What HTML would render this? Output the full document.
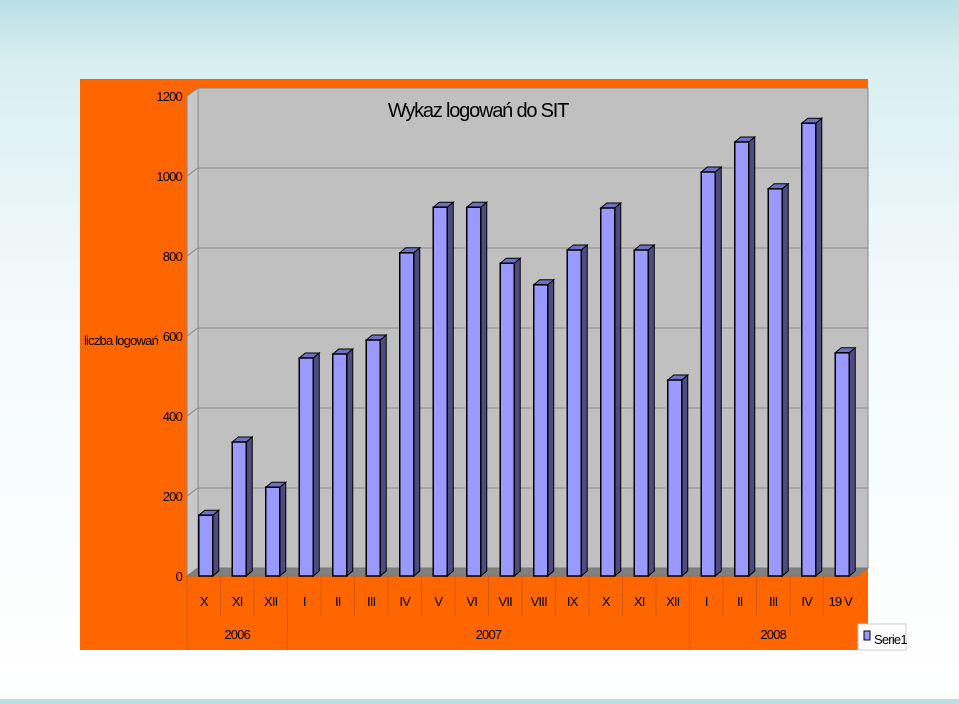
<!DOCTYPE html>
<html><head><meta charset="utf-8">
<style>
body{margin:0;width:959px;height:699px;overflow:hidden;background:linear-gradient(#b9dfe4 0px,#d8eef0 60px,#f4fafb 300px,#ffffff 699px);font-family:"Liberation Sans",sans-serif;}
svg text{font-family:"Liberation Sans",sans-serif;}
</style></head>
<body>
<svg id="chart" width="959" height="699">
<rect x="80" y="79" width="788" height="571" fill="#ff6600"/>
<g id="plot"></g>
<text x="478" y="117" text-anchor="middle" font-size="20" letter-spacing="-1.2" fill="#000">Wykaz logowań do SIT</text>
<text x="121" y="345" text-anchor="middle" font-size="13" letter-spacing="-0.8" fill="#000">liczba logowań</text>
<g>
<rect x="858" y="624" width="48" height="26" fill="#fff" stroke="#ccc"/>
<rect x="864" y="631" width="6" height="9" fill="#9999ff" stroke="#000"/>
<text x="874" y="644" font-size="13" letter-spacing="-0.8">Serie1</text>
</g>
</svg>
<script>
const categories=["X","XI","XII","I","II","III","IV","V","VI","VII","VIII","IX","X","XI","XII","I","II","III","IV","19 V"];
const values=[152,335,222,545,555,590,808,922,922,782,728,815,920,815,490,1010,1085,968,1132,558];
const yTicks=[0,200,400,600,800,1000,1200];
const years=["2006","2007","2008"];
const yearCounts=[3,12,5];
const NS="http://www.w3.org/2000/svg";
const g=document.getElementById('plot');
const x0=187,x1=857,y0=576,dx=11,dy=-8;
const step=(x1-x0)/categories.length;
const yScale=v=>y0-v*0.4;
function mk(tag,attrs){const e=document.createElementNS(NS,tag);for(const k in attrs)e.setAttribute(k,attrs[k]);g.appendChild(e);return e;}
// walls
let e=mk('polygon',{points:`${x0+dx},${yScale(1200)+dy} ${x1+dx},${yScale(1200)+dy} ${x1+dx},${y0+dy} ${x0+dx},${y0+dy}`,fill:'#c0c0c0',stroke:'#888'});

e=mk('polygon',{points:`${x0},${yScale(1200)} ${x0+dx},${yScale(1200)+dy} ${x0+dx},${y0+dy} ${x0},${y0}`,fill:'#c8c8c8',stroke:'#888'});

e=mk('polygon',{points:`${x0},${y0} ${x0+dx},${y0+dy} ${x1+dx},${y0+dy} ${x1},${y0}`,fill:'#808080',stroke:'#777'});

yTicks.forEach(t=>{
 const y=yScale(t);
 if(t>0){const l=mk('polyline',{points:`${x0},${y} ${x0+dx},${y+dy} ${x1+dx},${y+dy}`,fill:'none',stroke:'#888'});
 }
 const tx=mk('text',{x:182,y:y+5,'text-anchor':'end','font-size':13,'letter-spacing':'-0.8'});tx.textContent=t;
 
});
categories.forEach((c,i)=>{
 const cx=x0+step*(i+0.5);const bx=cx-5,bw=14,top=yScale(values[i]);
 const d=6,h=-5;
 let s=mk('polygon',{points:`${bx+bw},${top} ${bx+bw+d},${top+h} ${bx+bw+d},${y0+h} ${bx+bw},${y0}`,fill:'#4c4c80',stroke:'#000','stroke-width':1});
 
 s=mk('polygon',{points:`${bx},${top} ${bx+d},${top+h} ${bx+bw+d},${top+h} ${bx+bw},${top}`,fill:'#7070c0',stroke:'#000','stroke-width':1});
 
 s=mk('rect',{x:bx,y:top,width:bw,height:y0-top,fill:'#9999ff',stroke:'#000','stroke-width':1.5});
 
 const t=mk('text',{x:cx,y:606,'text-anchor':'middle','font-size':13,'letter-spacing':'-0.8'});t.textContent=c;
 
 const ln=mk('line',{x1:x0+step*i,y1:576,x2:x0+step*i,y2:616,stroke:'#d25a10'});
 
});
let start=0;
years.forEach((yr,j)=>{
 const a=x0+step*start,b=x0+step*(start+yearCounts[j]);
 const ln=mk('line',{x1:a,y1:576,x2:a,y2:650,stroke:'#d25a10'});
 
 const t=mk('text',{x:(a+b)/2,y:639,'text-anchor':'middle','font-size':13,'letter-spacing':'-0.8'});t.textContent=yr;
 
 start+=yearCounts[j];
});
</script>
</body></html>
